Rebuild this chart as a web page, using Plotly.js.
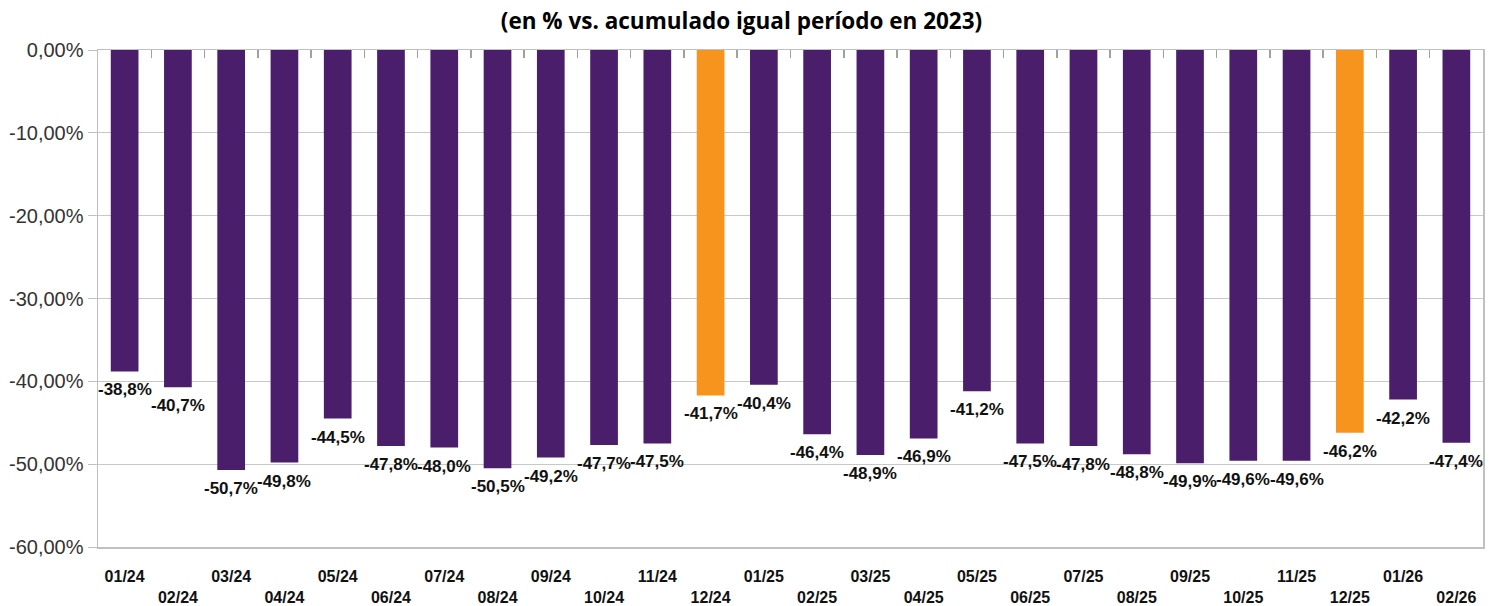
<!DOCTYPE html>
<html>
<head>
<meta charset="utf-8">
<script src="https://cdn.plot.ly/plotly-3.0.1.min.js"></script>
<style>
  html, body { margin: 0; padding: 0; background: #ffffff; }
  #chart { width: 1498px; height: 606px; }
</style>
</head>
<body>
<div id="chart"></div>
<script>
  const months = [
    "01/24", "02/24", "03/24", "04/24", "05/24", "06/24", "07/24", "08/24", "09/24",
    "10/24", "11/24", "12/24", "01/25", "02/25", "03/25", "04/25", "05/25", "06/25",
    "07/25", "08/25", "09/25", "10/25", "11/25", "12/25", "01/26", "02/26"
  ];

  const changePct = [
    -38.8, -40.7, -50.7, -49.8, -44.5, -47.8, -48.0, -50.5, -49.2,
    -47.7, -47.5, -41.7, -40.4, -46.4, -48.9, -46.9, -41.2, -47.5,
    -47.8, -48.8, -49.9, -49.6, -49.6, -46.2, -42.2, -47.4
  ];

  const yTickVals = [0, -10, -20, -30, -40, -50, -60];
  const yTickText = ["0,00%", "-10,00%", "-20,00%", "-30,00%", "-40,00%", "-50,00%", "-60,00%"];

  const purple = "#4a1e6a";
  const orange = "#f7941d";
  const labelFont = { family: "Liberation Sans, Arial, sans-serif", size: 17, color: "#111111", weight: "bold" };

  // december closes the year -> highlighted
  const barColors = months.map((m) => (m.startsWith("12/") ? orange : purple));
  const barText = changePct.map((v) => v.toFixed(1).replace(".", ",") + "%");
  // staggered category labels: every second one goes on a lower line
  const tickText = months.map((m, i) => (i % 2 === 1 ? "<br>" + m : m));
  const idx = months.map((_, i) => i);
  const boundaries = months.slice(1).map((_, i) => i + 0.5);

  const bars = {
    type: "bar",
    x: idx,
    y: changePct,
    marker: { color: barColors },
    width: 0.52,
    hoverinfo: "x+y"
  };

  // invisible carrier so the top tick axis gets drawn
  const topAxisCarrier = {
    type: "scatter",
    mode: "markers",
    x: idx,
    y: changePct,
    xaxis: "x2",
    yaxis: "y",
    marker: { opacity: 0, size: 1 },
    hoverinfo: "skip",
    showlegend: false
  };

  // value labels hang a little below each bar end
  const valueLabels = idx.map((i) => ({
    x: i,
    y: changePct[i],
    xref: "x",
    yref: "y",
    text: barText[i],
    showarrow: false,
    xanchor: "center",
    yanchor: "top",
    yshift: -7,
    font: labelFont
  }));

  const layout = {
    width: 1498,
    height: 606,
    margin: { l: 98, r: 15, t: 50, b: 59 },
    paper_bgcolor: "#ffffff",
    plot_bgcolor: "#ffffff",
    showlegend: false,
    font: { family: "Liberation Sans, Arial, sans-serif", color: "#222222" },
    title: {
      text: "<b>(en % vs. acumulado igual período en 2023)</b>",
      x: 0.495,
      xanchor: "center",
      y: 0.965,
      yanchor: "middle",
      font: { family: "Open Sans, sans-serif", size: 22.5, color: "#000000" }
    },
    xaxis: {
      type: "linear",
      range: [-0.5, 25.5],
      tickvals: idx,
      ticktext: tickText,
      ticks: "",
      ticklabelstandoff: 14,
      tickfont: { family: "Liberation Sans, Arial, sans-serif", size: 16, color: "#111111", weight: "bold" },
      showline: true,
      mirror: true,
      linecolor: "#c0c0c0",
      linewidth: 1.5,
      showgrid: false,
      zeroline: false,
      fixedrange: true
    },
    // small category separators hanging from the top edge
    xaxis2: {
      type: "linear",
      overlaying: "x",
      anchor: "y",
      side: "top",
      range: [-0.5, 25.5],
      tickvals: boundaries,
      ticks: "inside",
      ticklen: 8,
      tickcolor: "#a0a0a0",
      tickwidth: 1.5,
      showticklabels: false,
      showline: false,
      showgrid: false,
      zeroline: false,
      fixedrange: true
    },
    yaxis: {
      range: [-60, 0],
      tickvals: yTickVals,
      ticktext: yTickText,
      ticks: "outside",
      ticklen: 9,
      tickcolor: "#c0c0c0",
      tickfont: { family: "Liberation Sans, Arial, sans-serif", size: 20, color: "#333333" },
      showline: true,
      mirror: true,
      linecolor: "#c0c0c0",
      linewidth: 1.5,
      showgrid: true,
      gridcolor: "#c8c8c8",
      gridwidth: 1,
      zeroline: false,
      fixedrange: true
    },
    annotations: valueLabels,
    bargap: 0.48
  };

  Plotly.newPlot("chart", [bars, topAxisCarrier], layout, { displayModeBar: false, staticPlot: true });
</script>
</body>
</html>
